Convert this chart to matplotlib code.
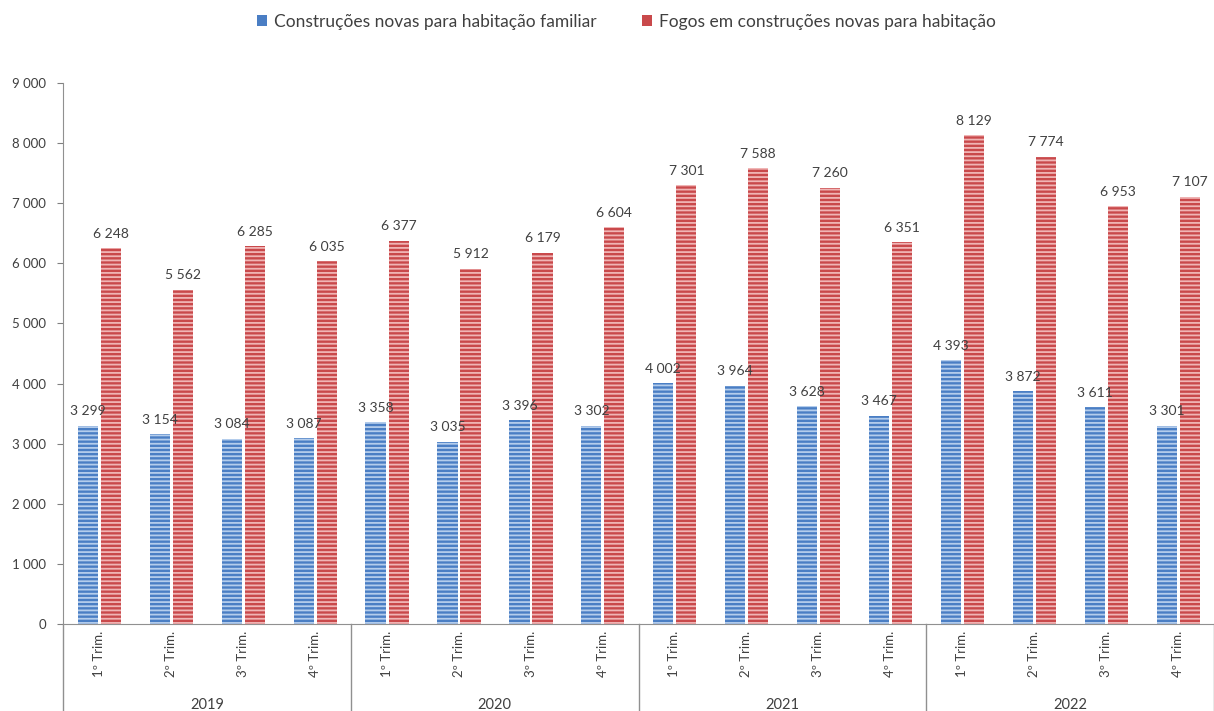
import numpy as np
import matplotlib.pyplot as plt
from matplotlib.patches import Patch
from matplotlib.transforms import blended_transform_factory

plt.rcParams['font.family'] = ['Lato', 'DejaVu Sans']
plt.rcParams['hatch.linewidth'] = 1.3

years = ['2019', '2020', '2021', '2022']
quarters = ['1º Trim.', '2º Trim.', '3º Trim.', '4º Trim.']
construcoes = [3299, 3154, 3084, 3087, 3358, 3035, 3396, 3302,
               4002, 3964, 3628, 3467, 4393, 3872, 3611, 3301]
fogos = [6248, 5562, 6285, 6035, 6377, 5912, 6179, 6604,
         7301, 7588, 7260, 6351, 8129, 7774, 6953, 7107]
series = ['Construções novas para habitação familiar',
          'Fogos em construções novas para habitação']

txt = '#404040'
W, H = 1214, 711
fig = plt.figure(figsize=(W / 100, H / 100), dpi=100)
ax = fig.add_axes([63 / W, 1 - 624 / H, (W - 63) / W, (624 - 83) / H])

x = np.arange(len(construcoes))
bw = 0.28
b1 = ax.bar(x - 0.155, construcoes, bw, color='#4a7ec4', edgecolor='#b4cdec',
            linewidth=0, hatch='----')
b2 = ax.bar(x + 0.165, fogos, bw, color='#c9494b', edgecolor='#f0b5b5',
            linewidth=0, hatch='----')

for bars, vals in ((b1, construcoes), (b2, fogos)):
    for r, v in zip(bars, vals):
        ax.annotate(f'{v:,}'.replace(',', ' '), (r.get_x() + r.get_width() / 2, v),
                    xytext=(0, 6), textcoords='offset points', ha='center', va='bottom',
                    fontsize=10, color=txt)

ax.set_xlim(-0.5, len(x) - 0.5)
ax.set_ylim(0, 9000)
ax.set_yticks(range(0, 9001, 1000))
ax.set_yticklabels([f'{v:,}'.replace(',', ' ') for v in range(0, 9001, 1000)])
ax.tick_params(axis='y', labelsize=9.5, colors=txt, length=4, pad=8)
ax.tick_params(axis='y', color='#808080')
ax.set_xticks(x)
ax.set_xticklabels(quarters * len(years), rotation=90, fontsize=9.5, color=txt)
ax.tick_params(axis='x', length=0, pad=5)

for s in ('top', 'right'):
    ax.spines[s].set_visible(False)
for s in ('left', 'bottom'):
    ax.spines[s].set_color('#909090')

# year groups below the axis
tr = blended_transform_factory(ax.transData, ax.transAxes)
ybot = -(711 - 624) / (624 - 83)
for i, yr in enumerate(years):
    ax.text(i * 4 + 1.5, ybot - 0.002, yr, transform=tr, ha='center', va='bottom',
            fontsize=10.5, color=txt)
for b in range(len(years) + 1):
    ax.plot([b * 4 - 0.5, b * 4 - 0.5], [0, ybot], transform=tr, color='#909090',
            lw=1, clip_on=False)

handles = [Patch(facecolor='#4a7ec4'), Patch(facecolor='#c9494b')]
ax.legend(handles, series, loc='upper center',
          bbox_to_anchor=(0.5 - 12 / (W - 63), 1 + 85 / (624 - 83)),
          ncol=2, frameon=False, fontsize=12.5, labelcolor=txt, handlelength=0.6,
          handleheight=0.6, columnspacing=2.6, handletextpad=0.4)

fig.savefig('out.png', dpi=100)
